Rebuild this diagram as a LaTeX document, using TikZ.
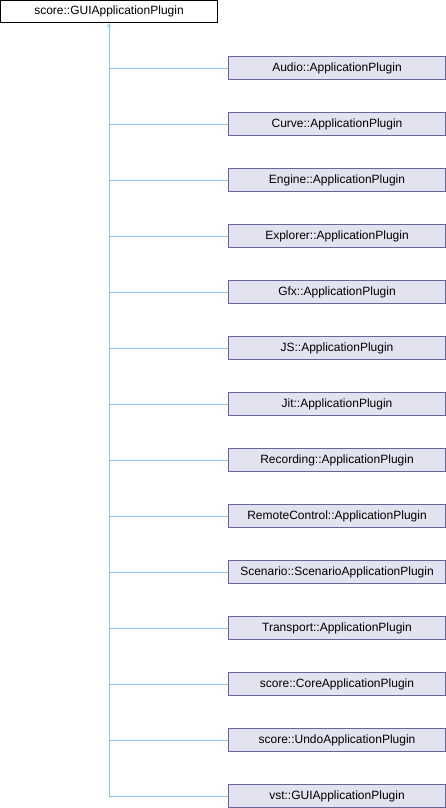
\documentclass[tikz,border=0pt]{standalone}
\usepackage{fontspec}
\setmainfont{Liberation Sans}
\usetikzlibrary{calc}
\definecolor{boxfill}{RGB}{226,226,240}
\definecolor{boxline}{RGB}{102,102,153}
\definecolor{edgeblue}{RGB}{140,200,235}
\begin{document}
\begin{tikzpicture}[x=1pt,y=-1pt]
	\tikzset{>=stealth}
	\tikzset{classbox/.style={draw=boxline,fill=boxfill,line width=0.8pt,minimum width=217pt,minimum height=22.5pt,inner sep=0pt,font=\fontsize{12}{14}\selectfont}}
	\tikzset{basebox/.style={classbox,draw=black,fill=white}}
	\tikzset{inherit/.style={draw=edgeblue,line width=0.8pt}}
	\useasboundingbox (0,0) rectangle (446,808);
	\node[basebox] (base) at (109,11.5) {score::GUIApplicationPlugin};
	\foreach \name [count=\i from 0] in {Audio::ApplicationPlugin,Curve::ApplicationPlugin,Engine::ApplicationPlugin,Explorer::ApplicationPlugin,Gfx::ApplicationPlugin,JS::ApplicationPlugin,Jit::ApplicationPlugin,Recording::ApplicationPlugin,RemoteControl::ApplicationPlugin,Scenario::ScenarioApplicationPlugin,Transport::ApplicationPlugin,score::CoreApplicationPlugin,score::UndoApplicationPlugin,vst::GUIApplicationPlugin}
	{
	    \node[classbox] (plugin\i) at (337,68+56*\i) {\name};
	    \draw[inherit] (plugin\i.west) -- (plugin\i.west -| base.south);
	}
	\coordinate (trunk) at (base.south |- plugin13.west);
	\draw[inherit,->] (trunk) -- (base.south);
\end{tikzpicture}
\end{document}
